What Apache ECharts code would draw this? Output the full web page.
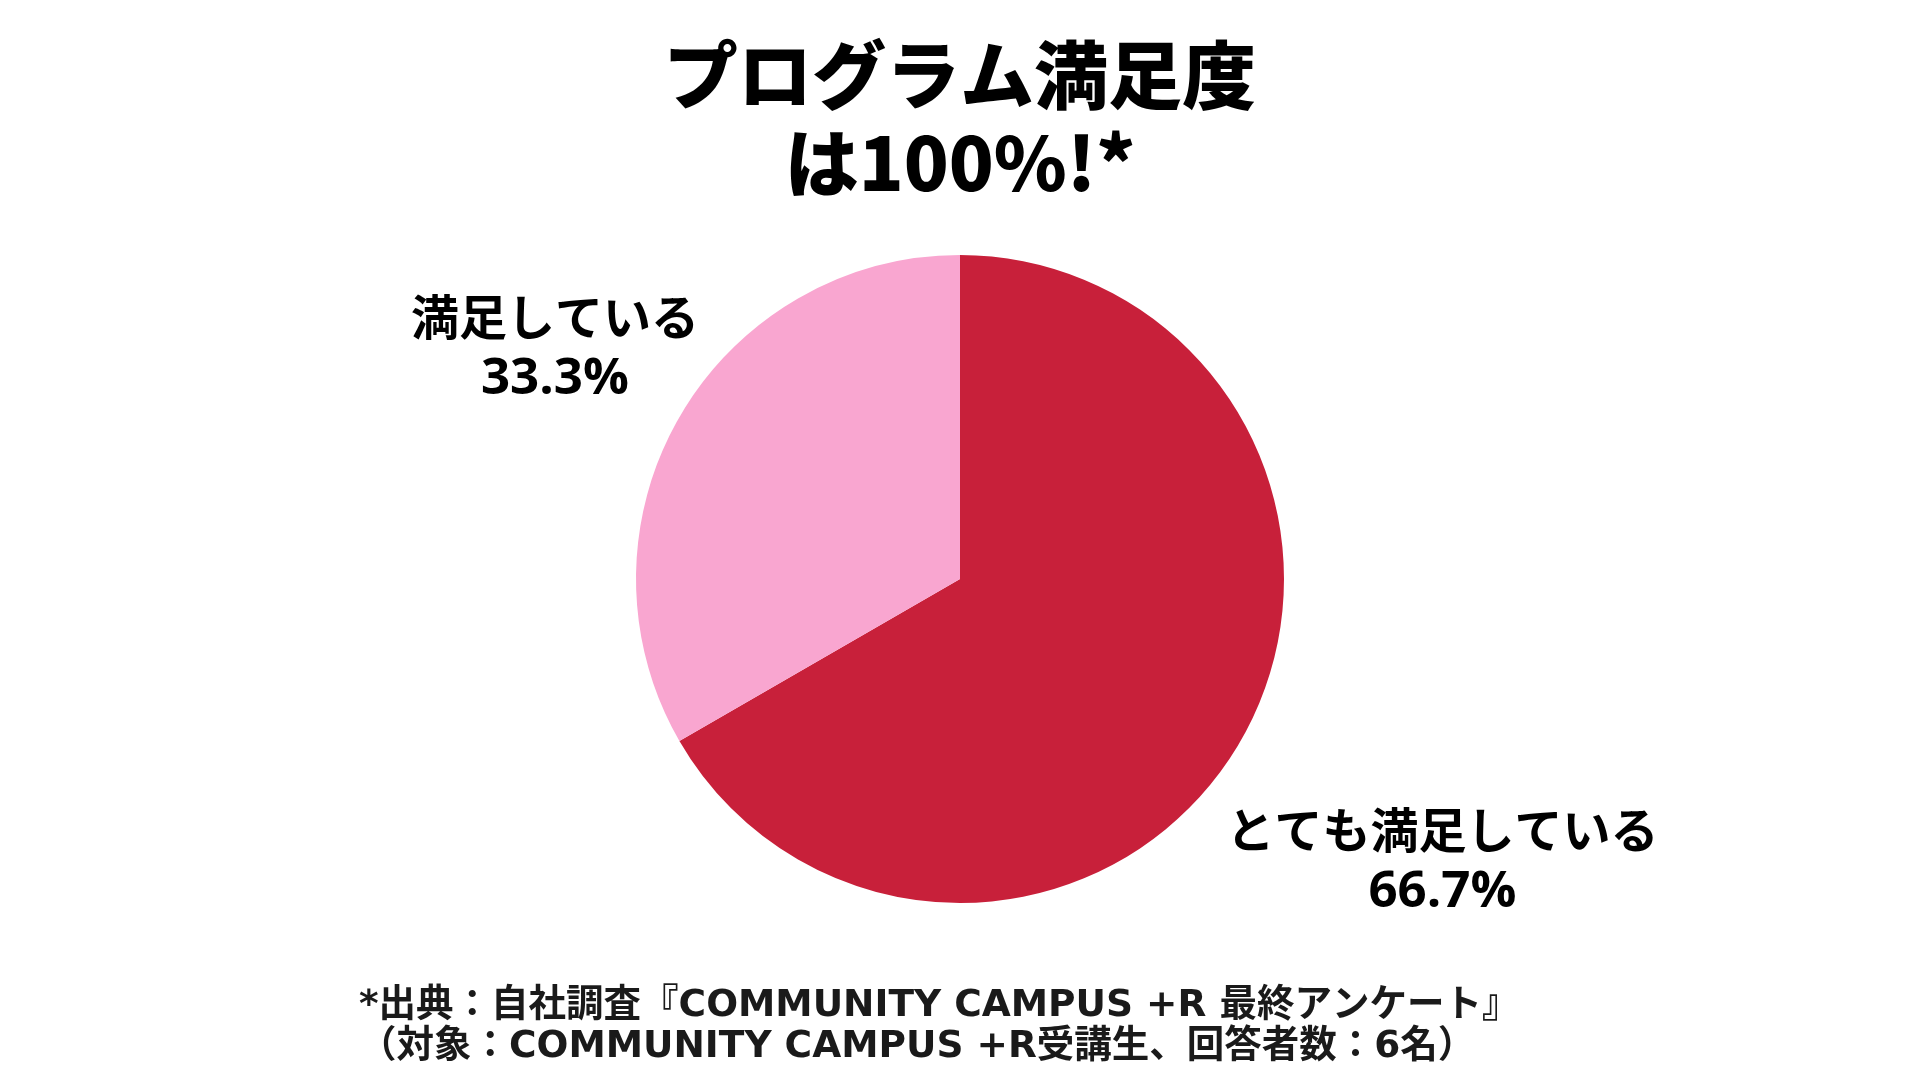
<!DOCTYPE html>
<html><head><meta charset="utf-8">
<script src="https://cdn.jsdelivr.net/npm/echarts@6/dist/echarts.min.js"></script>
<style>html,body{margin:0;padding:0;background:#fff}#c{width:1920px;height:1080px}</style>
</head><body><div id="c"></div>
<script>
const titleLines = ['プログラム満足度', 'は100%!*'];
const categories = ['とても満足している', '満足している'];
const respondents = [4, 2];
const footnoteLines = [
  '*出典：自社調査『COMMUNITY CAMPUS +R 最終アンケート』',
  '（対象：COMMUNITY CAMPUS +R受講生、回答者数：6名）'
];

const sliceColors = ['#C8203A', '#F9A6D0'];
const labelLineLen = [240, 138];
const labelLineLen2 = [-6, 5];

const JP = "'Noto Sans CJK JP', sans-serif";
const LAT = "'Open Sans', 'Noto Sans CJK JP', sans-serif";
const WIDE = "'DejaVu Sans', 'Noto Sans CJK JP', sans-serif";

const chart = echarts.init(document.getElementById('c'), null, { renderer: 'canvas' });
chart.setOption({
  backgroundColor: '#ffffff',
  animation: false,
  title: [
    {
      text: titleLines.join('\n'),
      left: 'center', top: 26,
      textStyle: { fontFamily: JP, fontSize: 74, fontWeight: 900, lineHeight: 88, color: '#000000' }
    },
    {
      text: footnoteLines.join('\n'),
      left: 354, top: 981,
      textStyle: { fontFamily: WIDE, fontSize: 37.5, fontWeight: 'bold', lineHeight: 41, color: '#1a1a1a' }
    }
  ],
  series: [{
    type: 'pie',
    left: 0, top: 0, width: 1920, height: 1080,
    center: [960, 579],
    radius: [0, 324],
    startAngle: 90,
    clockwise: true,
    percentPrecision: 1,
    silent: true,
    itemStyle: { borderWidth: 0 },
    label: {
      show: true,
      position: 'outside',
      distanceToLabelLine: 0,
      formatter: '{n|{b}}\n{p|{d}%}',
      rich: {
        n: { fontFamily: JP, fontSize: 48, fontWeight: 'bold', color: '#000000', lineHeight: 62, align: 'center' },
        p: { fontFamily: LAT, fontSize: 51, fontWeight: 'bold', color: '#000000', lineHeight: 62, align: 'center' }
      }
    },
    labelLine: { show: false },
    labelLayout: { align: 'center' },
    data: categories.map((name, i) => ({
      name: name,
      value: respondents[i],
      itemStyle: { color: sliceColors[i] },
      labelLine: { show: false, length: labelLineLen[i], length2: labelLineLen2[i] }
    }))
  }]
});
</script>
</body></html>
